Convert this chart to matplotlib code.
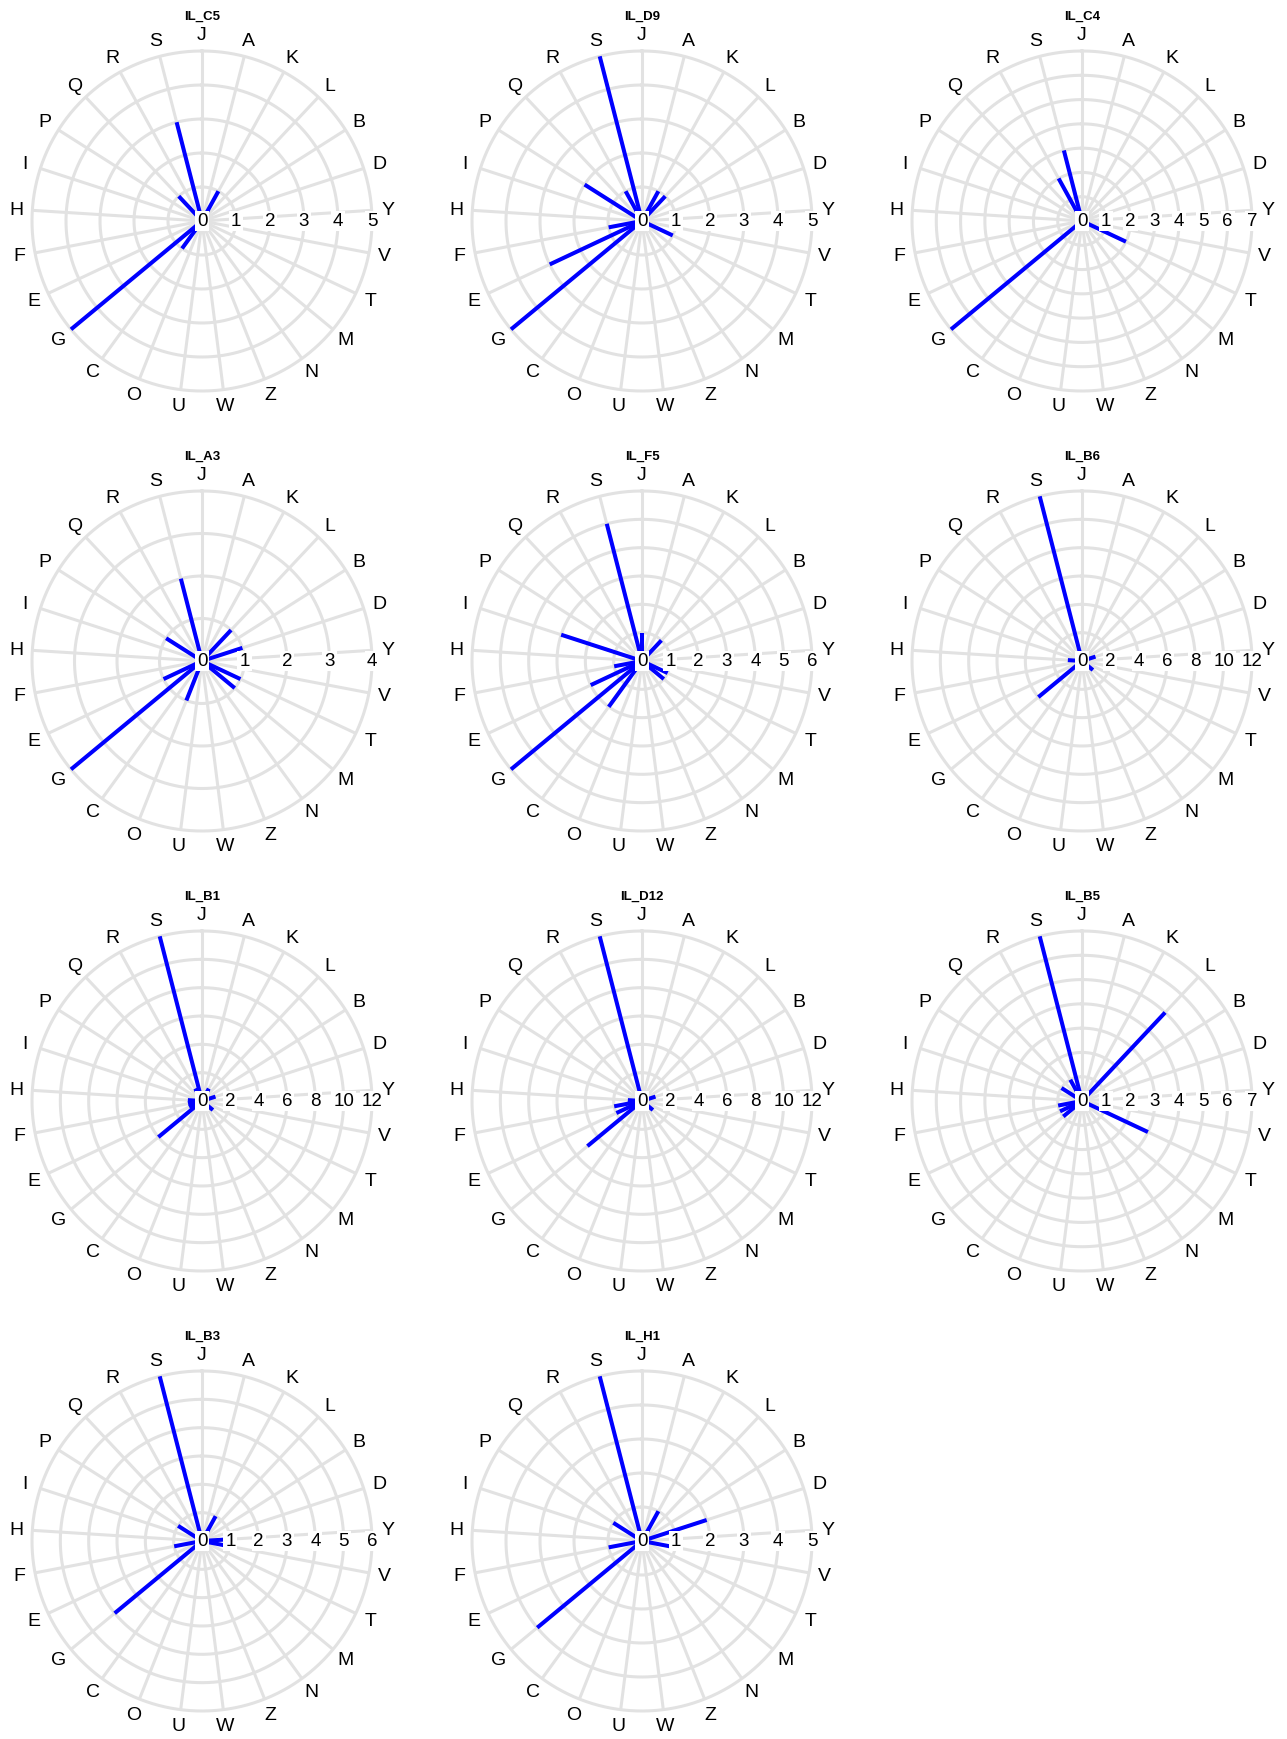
import numpy as np
import matplotlib
matplotlib.use("Agg")
import matplotlib.pyplot as plt

plt.rcParams['font.family'] = ['Liberation Sans', 'DejaVu Sans']

categories = ["J", "A", "K", "L", "B", "D", "Y", "V", "T", "M", "N", "Z", "W",
              "U", "O", "C", "G", "E", "F", "H", "I", "P", "Q", "R", "S"]

panel_names = ["IL_C5", "IL_D9", "IL_C4", "IL_A3", "IL_F5", "IL_B6",
               "IL_B1", "IL_D12", "IL_B5", "IL_B3", "IL_H1"]

il_c5 = [0, 0, 1, 0, 0, 0, 0, 0, 0, 0, 0, 0, 0, 0, 0, 1, 5, 0, 0, 0, 0, 0, 1, 0, 3]
il_d9 = [0, 0, 1, 1, 0, 0, 0, 0, 1, 0, 0, 0, 0, 0, 0, 0, 5, 3, 1, 0, 0, 2, 0, 1, 5]
il_c4 = [0, 0, 0, 0, 0, 0, 0, 0, 2, 0, 0, 0, 0, 0, 0, 0, 7, 0, 0, 0, 0, 0, 0, 2, 3]
il_a3 = [0, 0, 0, 1, 0, 1, 0, 0, 1, 1, 0, 0, 0, 0, 1, 0, 4, 1, 0, 0, 0, 1, 0, 0, 2]
il_f5 = [1, 0, 0, 1, 0, 0, 0, 0, 1, 1, 0, 0, 0, 0, 0, 2, 6, 2, 1, 0, 3, 0, 0, 0, 5]
il_b6 = [0, 0, 0, 0, 0, 1, 0, 0, 0, 1, 0, 0, 0, 0, 0, 0, 4, 0, 0, 1, 0, 0, 0, 0, 12]
il_b1 = [0, 0, 1, 0, 0, 1, 0, 0, 0, 1, 0, 0, 0, 0, 0, 0, 4, 1, 1, 1, 0, 0, 0, 1, 12]
il_d12 = [0, 0, 0, 0, 0, 1, 0, 0, 0, 1, 0, 0, 0, 0, 0, 0, 5, 2, 2, 1, 0, 0, 0, 0, 12]
il_b5 = [0, 0, 0, 5, 0, 0, 0, 0, 3, 0, 0, 0, 0, 0, 0, 0, 1, 1, 1, 0, 0, 1, 0, 1, 7]
il_b3 = [0, 0, 1, 0, 0, 0, 1, 1, 0, 0, 0, 0, 0, 0, 0, 0, 4, 0, 1, 0, 0, 1, 0, 0, 6]
il_h1 = [0, 0, 1, 0, 0, 2, 0, 1, 0, 0, 0, 0, 0, 0, 0, 0, 4, 0, 1, 0, 0, 1, 0, 0, 5]

panel_values = [il_c5, il_d9, il_c4, il_a3, il_f5, il_b6,
                il_b1, il_d12, il_b5, il_b3, il_h1]

W, H = 1287, 1740
R = 170
GRID = "#e2e2e2"
fig = plt.figure(figsize=(W / 100, H / 100), dpi=100)

n = len(categories)
thetas = np.arange(n) * 2 * np.pi / n
circ = np.linspace(0, 2 * np.pi, 500)

for i, (name, vals) in enumerate(zip(panel_names, panel_values)):
    row, col = divmod(i, 3)
    cx = 202 + 440 * col
    cy = 222 + 440 * row
    ax = fig.add_axes([(cx - R) / W, 1 - (cy + R) / H, 2 * R / W, 2 * R / H],
                      projection='polar')
    ax.set_theta_zero_location('N')
    ax.set_theta_direction(-1)
    vmax = max(vals)
    ax.set_ylim(0, vmax)
    ax.set_axis_off()

    step = 2 if vmax > 8 else 1
    ticks = list(range(0, vmax + 1, step))

    # rings
    for t in ticks[1:]:
        ax.plot(circ, np.full_like(circ, t), color=GRID, lw=2.2,
                clip_on=False, zorder=1)
    # spokes
    for th in thetas:
        ax.plot([th, th], [0, vmax], color=GRID, lw=2.2, clip_on=False,
                zorder=1, solid_capstyle='butt')
    # data
    for th, v in zip(thetas, vals):
        if v > 0:
            ax.plot([th, th], [0, v], color="#0000ff", lw=2.9, clip_on=False,
                    zorder=2, solid_capstyle='butt')
    # tick labels
    for t in ticks:
        ax.text(np.pi / 2, t, str(t), ha='center', va='center', fontsize=13.5,
                color='black', zorder=3,
                bbox=dict(boxstyle='square,pad=0.1', fc='white', ec='none'))
    # category labels
    for th, c in zip(thetas, categories):
        ax.text(th, vmax * 1.095, c, ha='center', va='center', fontsize=14,
                color='black')
    fig.text(cx / W, 1 - (cy - 205) / H, name, ha='center', va='center',
             fontsize=9.5, fontweight='bold')

fig.savefig("out.png", dpi=100, facecolor='white')
